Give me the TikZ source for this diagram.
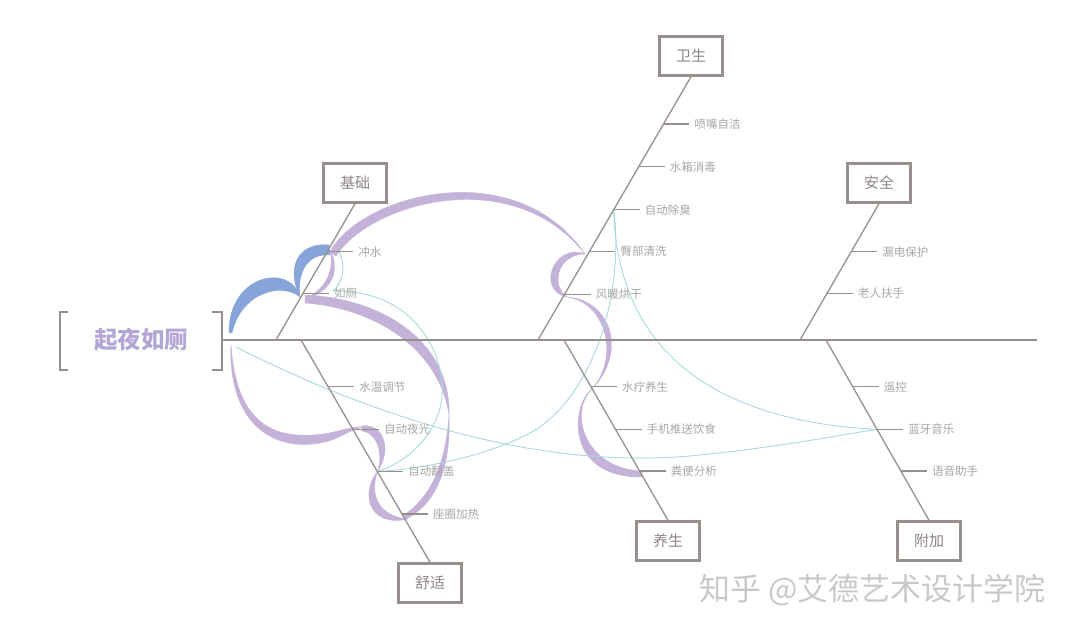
\documentclass[tikz,border=0pt]{standalone}
\usepackage{fontspec}
\newfontfamily\cjk{Noto Sans CJK SC}
\usetikzlibrary{positioning}
\pgfdeclarelayer{bg}
\pgfsetlayers{bg,main}
\definecolor{bonegray}{HTML}{978F8C}
\definecolor{boxtext}{HTML}{8C8583}
\definecolor{lbltext}{HTML}{A6A6A6}
\definecolor{titlepurple}{HTML}{B2A6D6}
\definecolor{ribpurple}{HTML}{C4B2D9}
\definecolor{ribblue}{HTML}{88A5D9}
\definecolor{linkcyan}{HTML}{A7D8DE}
\definecolor{wmgray}{HTML}{C8C8C8}

\begin{document}
\begin{tikzpicture}[x=1pt, y=-1pt,
    every node/.style={font=\cjk\fontsize{11.5}{13}\selectfont},
    node distance=26pt,
    spine/.style={draw=bonegray, line width=2.6pt},
    bone/.style={draw=bonegray, line width=1.3pt},
    tick/.style={draw=bonegray, line width=1.3pt},
    brk/.style={draw=bonegray, line width=2.4pt},
    cat/.style={draw=bonegray, line width=2.4pt, minimum width=63pt, minimum height=39pt,
                text=boxtext, font=\cjk\fontsize{15}{17}\selectfont},
    lbl/.style={inner xsep=5pt, inner ysep=1pt, text=lbltext},
    ttl/.style={text=titlepurple, font=\cjk\bfseries\fontsize{23.5}{26}\selectfont},
    wm/.style={text=wmgray, font=\cjk\fontsize{31}{34}\selectfont},
    rbp/.style={fill=ribpurple, draw=ribpurple, line width=0.4pt},
    rbb/.style={fill=ribblue, draw=ribblue, line width=0.4pt},
    lnk/.style={draw=linkcyan, line width=0.9pt},
  ]
  \useasboundingbox (0,0) rectangle (1080,636);

  % head
  \node[ttl] (head) at (141,340) {起夜如厕};
  \draw[brk] (68,312) -- (60,312) -- (60,370) -- (68,370);
  \draw[brk] (212,312) -- (222,312) -- (222,370) -- (212,370);
  \coordinate (sp-l) at (222,340);
  \coordinate (sp-r) at (1037,340);
  \coordinate (h-out) at (236,347);
  \draw[spine] (sp-l) -- (sp-r);

  % categories
  \node[cat] (jichu) at (355,183) {基础};
  \node[cat] (weisheng) at (691,56) {卫生};
  \node[cat] (anquan) at (879,183) {安全};
  \node[cat] (shushi) at (430,583) {舒适};
  \node[cat] (yangsheng) at (668,541) {养生};
  \node[cat] (fujia) at (929,541) {附加};

  \coordinate (b-jc) at (276,340);
  \coordinate (b-ss) at (301,340);
  \coordinate (b-ws) at (538,340);
  \coordinate (b-ys) at (564,340);
  \coordinate (b-aq) at (800,340);
  \coordinate (b-fj) at (826,340);

  \draw[bone] (b-jc) -- (jichu.south)
    coordinate[pos=0.342] (jc-rc) coordinate[pos=0.647] (jc-cs);
  \draw[bone] (b-ss) -- (shushi.north)
    coordinate[pos=0.210] (ss-sw) coordinate[pos=0.403] (ss-yg)
    coordinate[pos=0.591] (ss-fg) coordinate[pos=0.783] (ss-jr);
  \draw[bone] (b-ws) -- (weisheng.south)
    coordinate[pos=0.174] (ws-fn) coordinate[pos=0.336] (ws-tb)
    coordinate[pos=0.495] (ws-cc) coordinate[pos=0.658] (ws-sx)
    coordinate[pos=0.820] (ws-pz);
  \draw[bone] (b-ys) -- (yangsheng.north)
    coordinate[pos=0.259] (ys-sl) coordinate[pos=0.496] (ys-ts)
    coordinate[pos=0.727] (ys-fb);
  \draw[bone] (b-aq) -- (anquan.south)
    coordinate[pos=0.342] (aq-fs) coordinate[pos=0.647] (aq-ld);
  \draw[bone] (b-fj) -- (fujia.north)
    coordinate[pos=0.259] (fj-yk) coordinate[pos=0.496] (fj-ly)
    coordinate[pos=0.727] (fj-yy);

  % items
  \node[lbl, right=of jc-cs] (t-cs) {冲水};
  \node[lbl, right=of jc-rc] (t-rc) {如厕};
  \node[lbl, right=of ss-sw] (t-sw) {水温调节};
  \node[lbl, right=of ss-yg] (t-yg) {自动夜光};
  \node[lbl, right=of ss-fg] (t-fg) {自动翻盖};
  \node[lbl, right=of ss-jr] (t-jr) {座圈加热};
  \node[lbl, right=of ws-pz] (t-pz) {喷嘴自洁};
  \node[lbl, right=of ws-sx] (t-sx) {水箱消毒};
  \node[lbl, right=of ws-cc] (t-cc) {自动除臭};
  \node[lbl, right=of ws-tb] (t-tb) {臀部清洗};
  \node[lbl, right=of ws-fn] (t-fn) {风暖烘干};
  \node[lbl, right=of ys-sl] (t-sl) {水疗养生};
  \node[lbl, right=of ys-ts] (t-ts) {手机推送饮食};
  \node[lbl, right=of ys-fb] (t-fb) {粪便分析};
  \node[lbl, right=of aq-ld] (t-ld) {漏电保护};
  \node[lbl, right=of aq-fs] (t-fs) {老人扶手};
  \node[lbl, right=of fj-yk] (t-yk) {遥控};
  \node[lbl, right=of fj-ly] (t-ly) {蓝牙音乐};
  \node[lbl, right=of fj-yy] (t-yy) {语音助手};
  \draw[tick] (jc-cs) -- (t-cs.west);
  \draw[tick] (jc-rc) -- (t-rc.west);
  \draw[tick] (ss-sw) -- (t-sw.west);
  \draw[tick] (ss-yg) -- (t-yg.west);
  \draw[tick] (ss-fg) -- (t-fg.west);
  \draw[tick] (ss-jr) -- (t-jr.west);
  \draw[tick] (ws-pz) -- (t-pz.west);
  \draw[tick] (ws-sx) -- (t-sx.west);
  \draw[tick] (ws-cc) -- (t-cc.west);
  \draw[tick] (ws-tb) -- (t-tb.west);
  \draw[tick] (ws-fn) -- (t-fn.west);
  \draw[tick] (ys-sl) -- (t-sl.west);
  \draw[tick] (ys-ts) -- (t-ts.west);
  \draw[tick] (ys-fb) -- (t-fb.west);
  \draw[tick] (aq-ld) -- (t-ld.west);
  \draw[tick] (aq-fs) -- (t-fs.west);
  \draw[tick] (fj-yk) -- (t-yk.west);
  \draw[tick] (fj-ly) -- (t-ly.west);
  \draw[tick] (fj-yy) -- (t-yy.west);

  \node[wm, anchor=west] (wmark) at (696,590) {知乎 @艾德艺术设计学院};

  \begin{pgfonlayer}{bg}
    % blue ribbon
    \filldraw[rbb] (229,333) .. controls (228,275) and (290,262) .. (300,297)
      .. controls (284,283) and (242,290) .. (232,333) -- cycle;
    \filldraw[rbb] (300,297) .. controls (285,265) and (300,242) .. (329,245) -- (330,255)
      .. controls (307,253) and (297,273) .. (300,297) -- cycle;
    % purple ribbon
    \filldraw[rbp] (231,345) .. controls (228,420) and (270,452) .. (320,443)
      .. controls (340,440) and (350,428) .. (365,427)
      .. controls (348,426) and (335,434) .. (313,435)
      .. controls (265,438) and (236,415) .. (231,345) -- cycle;
    \filldraw[rbp] (362,426) .. controls (382,423) and (393,447) .. (378,471)
      .. controls (384,448) and (374,432) .. (362,431) -- cycle;
    \filldraw[rbp] (378,471) .. controls (360,492) and (368,528) .. (408,519)
      .. controls (380,517) and (368,495) .. (378,471) -- cycle;
    \filldraw[rbp] (406,519) .. controls (440,502) and (451,460) .. (449,415)
      .. controls (446,462) and (432,496) .. (404,515) -- cycle;
    \filldraw[rbp] (449,415) .. controls (451,340) and (380,298) .. (305,295) -- (305,303)
      .. controls (374,308) and (439,348) .. (449,415) -- cycle;
    \filldraw[rbp] (305,299) .. controls (332,292) and (341,270) .. (330,250)
      .. controls (335,270) and (326,289) .. (305,299) -- cycle;
    \filldraw[rbp] (330,252) .. controls (360,195) and (515,152) .. (585,254)
      .. controls (512,162) and (370,203) .. (336,256) -- cycle;
    \filldraw[rbp] (585,254) .. controls (555,242) and (535,290) .. (567,297)
      .. controls (550,285) and (558,254) .. (585,254) -- cycle;
    \filldraw[rbp] (567,297) .. controls (610,300) and (628,350) .. (593,388)
      .. controls (620,355) and (605,302) .. (567,297) -- cycle;
    \filldraw[rbp] (593,388) .. controls (570,405) and (565,478) .. (642,477) -- (642,471)
      .. controls (585,469) and (567,412) .. (593,388) -- cycle;
    % cyan links
    \draw[lnk] (339,252) .. controls (347,266) and (342,284) .. (333,291)
      .. controls (420,290) and (445,360) .. (442,395)
      .. controls (440,430) and (410,462) .. (ss-fg);
    \draw[lnk] (ws-cc) .. controls (625,300) and (590,400) .. (530,433)
      .. controls (490,455) and (420,470) .. (ss-fg);
    \draw[lnk] (ws-cc) .. controls (617,340) and (700,420) .. (fj-ly);
    \draw[lnk] (h-out) .. controls (400,430) and (560,470) .. (700,455)
      .. controls (780,447) and (840,435) .. (fj-ly);
  \end{pgfonlayer}
\end{tikzpicture}
\end{document}
